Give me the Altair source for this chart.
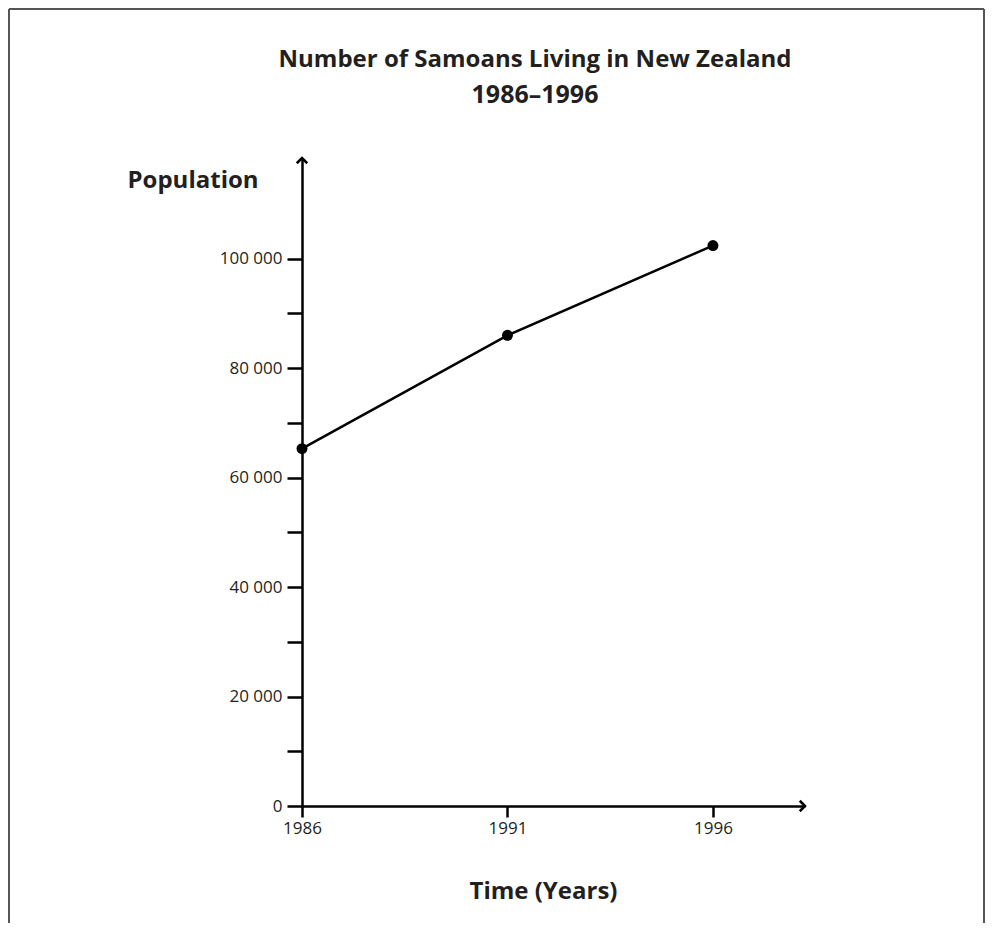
import altair as alt
import pandas as pd

# ---- data ----
years = [1986, 1991, 1996]
population = [65300, 86000, 102400]
y_tick_values = [0, 10000, 20000, 30000, 40000, 50000, 60000, 70000, 80000, 90000, 100000]
x_tick_values = [1986, 1991, 1996]
title_lines = ["Number of Samoans Living in New Zealand", "1986\u20131996"]

X_MIN, X_MAX = 1986, 1998.24
Y_MIN, Y_MAX = 0, 118400

FONT = "Open Sans"
INK = "#231f20"

df = pd.DataFrame({"year": years, "population": population})

PLOT_W, PLOT_H = 503, 648
PAD_L, PAD_T, PAD_R, PAD_B = 294, 150, 181, 117

x_scale = alt.Scale(domain=[X_MIN, X_MAX], nice=False, zero=False)
y_scale = alt.Scale(domain=[Y_MIN, Y_MAX], nice=False, zero=True)

x_enc = alt.X(
    "year:Q",
    scale=x_scale,
    axis=alt.Axis(
        values=x_tick_values,
        format="d",
        grid=False,
        labelFlush=False,
        labelOverlap=False,
        domainColor="black",
        domainWidth=2.5,
        tickColor="black",
        tickWidth=2.5,
        tickSize=11,
        labelFont=FONT,
        labelFontSize=17,
        labelColor=INK,
        labelPadding=3,
        title="Time (Years)",
        titleFont=FONT,
        titleFontSize=24,
        titleFontWeight="bold",
        titleColor=INK,
        titleAngle=0,
        titleAlign="center",
        titleBaseline="alphabetic",
        titleX=241,
        titleY=92,
    ),
)

y_enc = alt.Y(
    "population:Q",
    scale=y_scale,
    axis=alt.Axis(
        values=y_tick_values,
        labelExpr="datum.value % 20000 == 0 ? replace(format(datum.value, ','), ',', ' ') : ''",
        grid=False,
        labelFlush=False,
        labelOverlap=False,
        domainColor="black",
        domainWidth=2.5,
        tickColor="black",
        tickWidth=2.5,
        tickSize=15,
        labelFont=FONT,
        labelFontSize=17,
        labelColor=INK,
        labelPadding=5,
        title="Population",
        titleFont=FONT,
        titleFontSize=24,
        titleFontWeight="bold",
        titleColor=INK,
        titleAngle=0,
        titleAlign="left",
        titleBaseline="alphabetic",
        titleX=-175,
        titleY=29,
    ),
)

base = alt.Chart(df)

line = base.mark_line(color="black", strokeWidth=2.5).encode(x=x_enc, y=y_enc)
dots = base.mark_circle(color="black", size=120, opacity=1).encode(x="year:Q", y="population:Q")

# axis arrowheads (chevrons) at the end of each axis
arrow_up = alt.Chart(pd.DataFrame({"year": [X_MIN], "population": [Y_MAX]})).mark_point(
    shape="M-1,1L0,0L1,1", size=110, filled=False, stroke="black", strokeWidth=2.5, opacity=1
).encode(x="year:Q", y="population:Q")
arrow_right = alt.Chart(pd.DataFrame({"year": [X_MAX], "population": [Y_MIN]})).mark_point(
    shape="M-1,-1L0,0L-1,1", size=110, filled=False, stroke="black", strokeWidth=2.5, opacity=1
).encode(x="year:Q", y="population:Q")

# chart title (two centred lines above the plot)
title_df = pd.DataFrame({"k": [0]})
title1 = alt.Chart(title_df).mark_text(
    text=title_lines[0], font=FONT, fontSize=24, fontWeight="bold", color=INK,
    align="center", baseline="alphabetic"
).encode(x=alt.value(233), y=alt.value(-91))
title2 = alt.Chart(title_df).mark_text(
    text=title_lines[1], font=FONT, fontSize=25, fontWeight="bold", color=INK,
    align="center", baseline="alphabetic"
).encode(x=alt.value(233), y=alt.value(-55))

# picture frame around the figure
frame_df = pd.DataFrame({"k": [0]})
frame_left = alt.Chart(frame_df).mark_rule(color="#555555", strokeWidth=2).encode(
    x=alt.value(-293), y=alt.value(-149), y2=alt.value(PLOT_H + PAD_B)
)
frame_top = alt.Chart(frame_df).mark_rule(color="#555555", strokeWidth=2).encode(
    x=alt.value(-293), x2=alt.value(PLOT_W + PAD_R - 2), y=alt.value(-149)
)
frame_right = alt.Chart(frame_df).mark_rule(color="#555555", strokeWidth=2).encode(
    x=alt.value(PLOT_W + PAD_R - 2), y=alt.value(-149), y2=alt.value(PLOT_H + PAD_B)
)

chart = (
    alt.layer(frame_left, frame_top, frame_right, title1, title2,
              line, dots, arrow_up, arrow_right)
    .properties(
        width=PLOT_W,
        height=PLOT_H,
        autosize=alt.AutoSizeParams(type="none"),
        padding={"left": PAD_L, "top": PAD_T, "right": PAD_R, "bottom": PAD_B},
    )
    .configure(background="white")
    .configure_view(strokeWidth=0, stroke="transparent")
)

chart.save("out.html", embed_options={"renderer": "svg", "actions": False})
